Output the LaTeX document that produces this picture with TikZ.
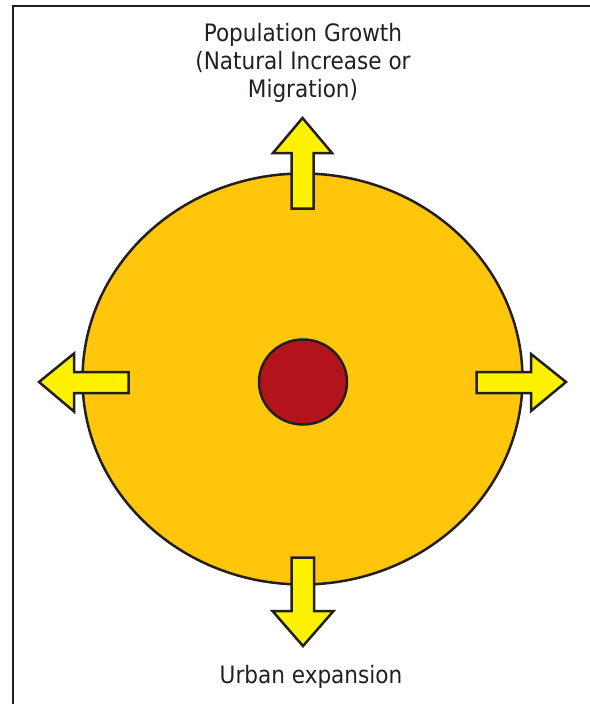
\documentclass[tikz,border=0pt]{standalone}
\usepackage{fontspec}
\setmainfont{DejaVu Sans Condensed}
\definecolor{framecol}{HTML}{231F20}
\definecolor{orangec}{HTML}{FFC60B}
\definecolor{arrowc}{HTML}{FFF200}
\definecolor{redc}{HTML}{B3141B}
\tikzset{
  shapeline/.style={draw=framecol, line width=2.5pt, line join=miter},
  label/.style={text=framecol, font=\fontsize{24}{28}\selectfont, align=center, inner sep=0pt}
}
\begin{document}
\begin{tikzpicture}[x=1pt,y=-1pt]
\useasboundingbox (0,0) rectangle (589,704);
\draw[framecol, line width=2.8pt] (590,6) -- (13,6) -- (13,705);
\draw[shapeline, fill=orangec] (302.5,379) ellipse [x radius=220pt, y radius=205.5pt];
\draw[shapeline, fill=redc] (303,382) ellipse [x radius=44pt, y radius=42.5pt];
% top arrow
\draw[shapeline, fill=arrowc] (302.5,118) -- (332,153) -- (313.5,153) -- (313.5,208.5) -- (291.5,208.5) -- (291.5,153) -- (273,153) -- cycle;
% bottom arrow
\draw[shapeline, fill=arrowc] (303,646) -- (333.5,611) -- (314,611) -- (314,557.5) -- (291.5,557.5) -- (291.5,611) -- (272.5,611) -- cycle;
% left arrow
\draw[shapeline, fill=arrowc] (39,382) -- (74,353.5) -- (74,372) -- (128.5,372) -- (128.5,393) -- (74,393) -- (74,411.5) -- cycle;
% right arrow
\draw[shapeline, fill=arrowc] (566,382) -- (531,411) -- (531,393) -- (476.5,393) -- (476.5,372) -- (531,372) -- (531,354) -- cycle;
\node[label] (toptext) at (303,63) {Population Growth\\(Natural Increase or\\Migration)};
\node[label, anchor=base] (bottext) at (311,683) {Urban expansion};
\end{tikzpicture}
\end{document}
